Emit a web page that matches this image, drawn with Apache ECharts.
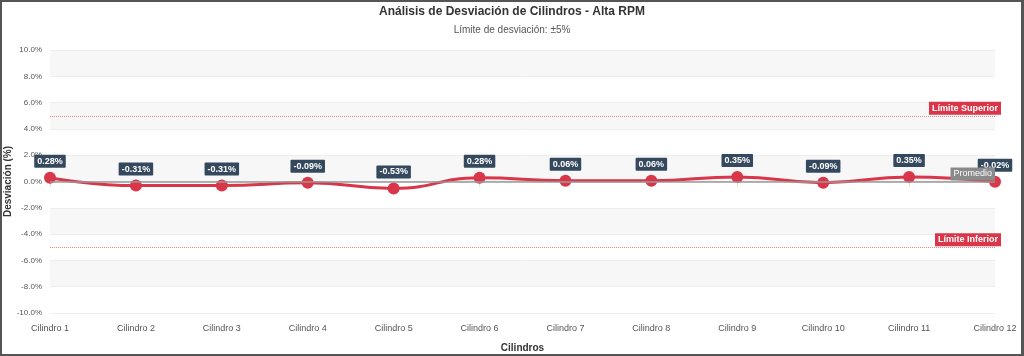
<!DOCTYPE html>
<html>
<head>
<meta charset="utf-8">
<script src="https://cdn.jsdelivr.net/npm/echarts@6/dist/echarts.min.js"></script>
<style>
html,body{margin:0;padding:0;background:#fff;}
#wrap{width:1024px;height:356px;box-sizing:border-box;border-top:2px solid #555;border-left:2px solid #555;border-right:3px solid #555;border-bottom:2px solid #555;position:relative;overflow:hidden;}
#chart{position:absolute;left:-2px;top:-2px;width:1024px;height:356px;}
</style>
</head>
<body>
<div id="wrap"><div id="chart"></div></div>
<script>
const categories = ['Cilindro 1','Cilindro 2','Cilindro 3','Cilindro 4','Cilindro 5','Cilindro 6','Cilindro 7','Cilindro 8','Cilindro 9','Cilindro 10','Cilindro 11','Cilindro 12'];
const deviation = [0.28, -0.31, -0.31, -0.09, -0.53, 0.28, 0.06, 0.06, 0.35, -0.09, 0.35, -0.02];
const upperLimit = 5;
const lowerLimit = -5;
const titleText = 'Análisis de Desviación de Cilindros - Alta RPM';
const subtitleText = 'Límite de desviación: ±5%';

const chart = echarts.init(document.getElementById('chart'), null, {renderer:'canvas'});
const red = '#d9364a';
const font = 'Liberation Sans, Arial, sans-serif';
chart.setOption({
  animation:false,
  textStyle:{fontFamily:font},
  title:{
    text:titleText, subtext:subtitleText, left:'center', top:1, itemGap:7,
    textStyle:{fontSize:12,fontWeight:'bold',color:'#333',fontFamily:font},
    subtextStyle:{fontSize:10,color:'#555',fontFamily:font}
  },
  grid:{left:50,right:29,top:50,bottom:43,containLabel:false,outerBoundsMode:'none'},
  xAxis:{
    type:'category', data:categories, boundaryGap:false,
    name:'Cilindros', nameLocation:'middle', nameGap:30, nameMoveOverlap:false,
    nameTextStyle:{fontSize:10,fontWeight:'bold',color:'#333'},
    axisLine:{lineStyle:{color:'#ddd'}},
    axisTick:{lineStyle:{color:'#ddd'}},
    axisLabel:{fontSize:9,color:'#555',margin:11}
  },
  yAxis:{
    type:'value', min:-10, max:10, interval:2,
    name:'Desviación (%)', nameLocation:'middle', nameGap:37, nameMoveOverlap:false,
    nameTextStyle:{fontSize:10,fontWeight:'bold',color:'#333'},
    axisLine:{show:false}, axisTick:{show:false},
    axisLabel:{fontSize:8,color:'#555',margin:8,formatter:v=>v.toFixed(1)+'%'},
    splitLine:{show:true,lineStyle:{color:'#eeeeee'}},
    splitArea:{show:true,areaStyle:{color:['#ffffff','#f7f7f7']}}
  },
  series:[{
    type:'line', data:deviation, smooth:true,
    symbol:'circle', symbolSize:12,
    lineStyle:{color:red,width:3},
    itemStyle:{color:red},
    label:{show:true,position:'top',distance:4,formatter:p=>p.value.toFixed(2)+'%',
      backgroundColor:'#34495e',color:'#fff',fontSize:9,fontWeight:'bold',padding:[2,3],borderRadius:1},
    markLine:{
      symbol:'none', silent:true,
      lineStyle:{color:'#e58a8a',type:'dotted',width:1,opacity:1},
      data:[
        {yAxis:upperLimit,name:'Límite Superior',lineStyle:{color:'#e58a8a',type:'dotted',width:1},
          label:{formatter:'Límite Superior',position:'insideEndTop',distance:[-6,1],backgroundColor:red,color:'#fff',fontSize:9,fontWeight:'bold',padding:[2,3]}},
        {yAxis:lowerLimit,name:'Límite Inferior',lineStyle:{color:'#e58a8a',type:'dotted',width:1},
          label:{formatter:'Límite Inferior',position:'insideEndTop',distance:[-6,1],backgroundColor:red,color:'#fff',fontSize:9,fontWeight:'bold',padding:[2,3]}},
        {type:'average',name:'Promedio',lineStyle:{color:'#999',type:'solid',width:1.5},
          label:{formatter:'Promedio',position:'insideEndTop',distance:[0,1],backgroundColor:'#8a8a8a',color:'#fff',fontSize:9,padding:[2,3]}}
      ]
    }
  }]
});
</script>
</body>
</html>
